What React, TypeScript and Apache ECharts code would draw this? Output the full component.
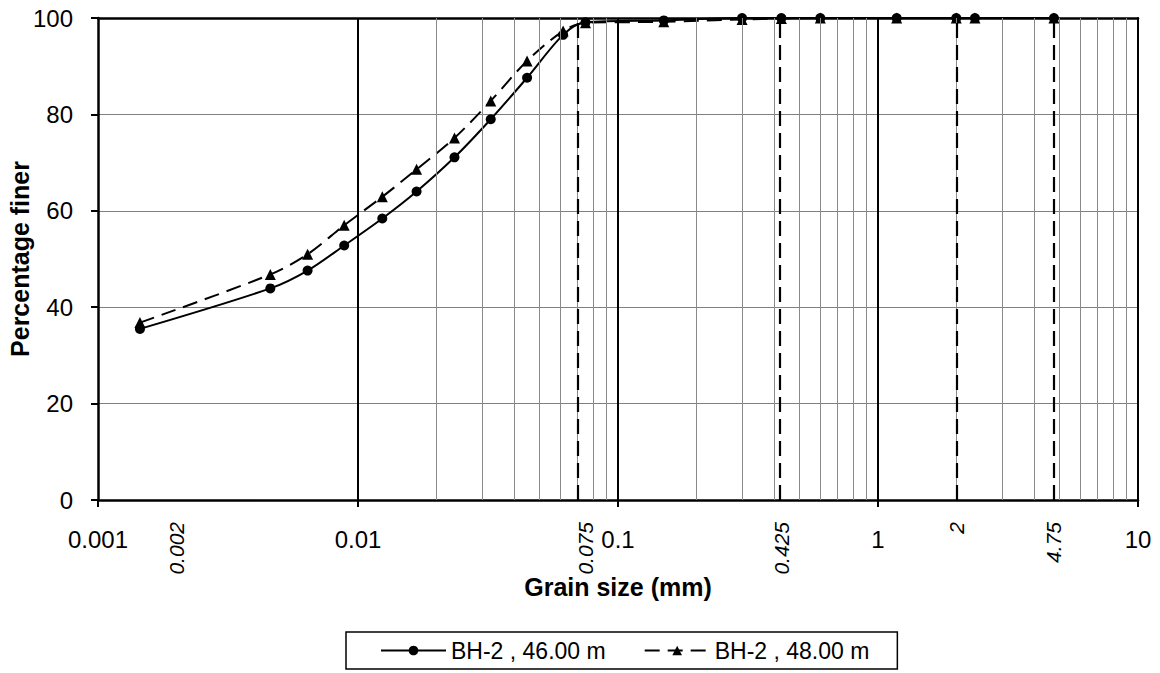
import React, { useEffect, useRef } from "react";
import * as echarts from "echarts";

// ---- data ----
const seriesNames = ["BH-2 , 46.00 m", "BH-2 , 48.00 m"];
const grainSizes = [
  0.00145, 0.0046, 0.0064, 0.00885, 0.0124, 0.0168, 0.0235, 0.0324, 0.0447,
  0.0615, 0.075, 0.15, 0.3, 0.425, 0.6, 1.18, 2, 2.36, 4.75,
];
const finer46 = [
  35.5, 43.9, 47.6, 52.8, 58.4, 64.0, 71.1, 79.0, 87.6, 96.5, 99.1, 99.5, 100,
  100, 100, 100, 100, 100, 100,
];
const finer48 = [
  36.8, 46.8, 51.0, 57.0, 62.9, 68.6, 75.1, 82.8, 91.1, 97.3, 99.0, 99.2, 99.7,
  99.9, 100, 100, 100, 100, 100,
];
const xTickLabels = ["0.001", "0.01", "0.1", "1", "10"];
const sieveValues = [0.002, 0.075, 0.425, 2, 4.75];
const sieveLabels = ["0.002", "0.075", "0.425", "2", "4.75"];
const decadeMultipliers = [2, 3, 4, 5, 6, 7, 8, 9];
const decadeStarts = [0.001, 0.01, 0.1, 1];

const FONT = "'Liberation Sans', Arial, sans-serif";

export default function App() {
  const ref = useRef<HTMLDivElement>(null);
  useEffect(() => {
    if (!ref.current) return;
    const chart = echarts.init(ref.current, null, { renderer: "svg" });
    const minorGrid: number[] = [];
    decadeStarts.forEach((d) =>
      decadeMultipliers.forEach((m) => minorGrid.push(+(d * m).toPrecision(6)))
    );
    const majorInner = xTickLabels.slice(1, -1).map(Number);
    const mk = (xs: number[], ys: number[]) => xs.map((x, i) => [x, ys[i]]);
    const xMin = Number(xTickLabels[0]);
    const xMax = Number(xTickLabels[xTickLabels.length - 1]);

    chart.setOption({
      animation: false,
      textStyle: { fontFamily: FONT, color: "#000" },
      grid: {
        left: 98,
        top: 18,
        width: 1040,
        height: 482,
        containLabel: false,
        outerBoundsMode: "none",
      },
      legend: {
        data: seriesNames,
        left: 346,
        top: 632,
        orient: "horizontal",
        itemWidth: 65,
        itemHeight: 12,
        itemGap: 38,
        padding: [7, 28, 7, 34],
        borderColor: "#000",
        borderWidth: 1.5,
        textStyle: { fontSize: 23, color: "#000", fontFamily: FONT },
      },
      xAxis: [
        {
          type: "log",
          logBase: 10,
          min: xMin,
          max: xMax,
          name: "Grain size (mm)",
          nameLocation: "middle",
          nameGap: 74,
          nameMoveOverlap: false,
          nameTextStyle: { fontSize: 25, fontWeight: "bold", color: "#000", fontFamily: FONT },
          axisLine: { lineStyle: { color: "#000", width: 2.5 } },
          axisTick: { show: true, length: 7, lineStyle: { color: "#000", width: 2 } },
          axisLabel: {
            fontSize: 24,
            color: "#000",
            margin: 27,
            fontFamily: FONT,
            formatter: (v: number) => xTickLabels[Math.round(Math.log10(v) + 3)] ?? "",
          },
          splitLine: { show: false },
        },
        {
          type: "log",
          logBase: 10,
          min: xMin,
          max: xMax,
          position: "bottom",
          axisLine: { show: false },
          axisTick: { show: false },
          splitLine: { show: false },
          axisLabel: {
            customValues: sieveValues,
            rotate: 90,
            fontSize: 21,
            fontStyle: "italic",
            color: "#000",
            margin: 22,
            fontFamily: FONT,
            formatter: (v: number) => {
              const i = sieveValues.findIndex((s) => Math.abs(s - v) / s < 1e-6);
              return i >= 0 ? sieveLabels[i] : "";
            },
          },
        },
        {
          type: "log",
          logBase: 10,
          min: xMin,
          max: xMax,
          position: "top",
          axisLine: { show: true, lineStyle: { color: "#000", width: 2.5 } },
          axisTick: { show: false },
          axisLabel: { show: false },
          splitLine: { show: false },
        },
      ],
      yAxis: [
        {
          type: "value",
          min: 0,
          max: 100,
          interval: 20,
          name: "Percentage finer",
          nameLocation: "middle",
          nameGap: 66,
          nameMoveOverlap: false,
          nameTextStyle: { fontSize: 25, fontWeight: "bold", color: "#000", fontFamily: FONT },
          axisLine: { show: true, lineStyle: { color: "#000", width: 2.5 } },
          axisTick: { show: true, length: 7, lineStyle: { color: "#000", width: 2 } },
          axisLabel: { fontSize: 24, color: "#000", margin: 25, fontFamily: FONT },
          splitLine: { show: true, lineStyle: { color: "#808080", width: 1 } },
        },
        {
          type: "value",
          min: 0,
          max: 100,
          position: "right",
          axisLine: { show: true, lineStyle: { color: "#000", width: 2 } },
          axisTick: { show: false },
          axisLabel: { show: false },
          splitLine: { show: false },
        },
      ],
      series: [
        {
          name: "minor-grid",
          type: "line",
          data: [],
          z: 1,
          silent: true,
          markLine: {
            silent: true,
            symbol: ["none", "none"],
            label: { show: false },
            lineStyle: { color: "#8a8a8a", width: 1, type: "solid" },
            data: minorGrid.map((v) => ({ xAxis: v })),
          },
        },
        {
          name: "major-grid",
          type: "line",
          data: [],
          z: 2,
          silent: true,
          markLine: {
            silent: true,
            symbol: ["none", "none"],
            label: { show: false },
            lineStyle: { color: "#000", width: 2, type: "solid" },
            data: majorInner.map((v) => ({ xAxis: v })),
          },
        },
        {
          name: "sieve-lines",
          type: "line",
          data: [],
          z: 3,
          silent: true,
          markLine: {
            silent: true,
            symbol: ["none", "none"],
            label: { show: false },
            lineStyle: { color: "#000", width: 2.2, type: [15, 7] },
            data: sieveValues.map((v) => ({ xAxis: v })),
          },
        },
        {
          name: seriesNames[0],
          type: "line",
          data: mk(grainSizes, finer46),
          smooth: 0.3,
          z: 4,
          symbol: "circle",
          symbolSize: 10,
          itemStyle: { color: "#000" },
          lineStyle: { color: "#000", width: 2 },
        },
        {
          name: seriesNames[1],
          type: "line",
          data: mk(grainSizes, finer48),
          smooth: 0.3,
          z: 4,
          symbol: "triangle",
          symbolSize: 11,
          itemStyle: { color: "#000" },
          lineStyle: { color: "#000", width: 2, type: [15, 8] },
        },
      ],
    });
    return () => chart.dispose();
  }, []);
  return (
    <div
      ref={ref}
      style={{ position: "absolute", left: 0, top: 0, width: 1160, height: 673, background: "#fff" }}
    />
  );
}
